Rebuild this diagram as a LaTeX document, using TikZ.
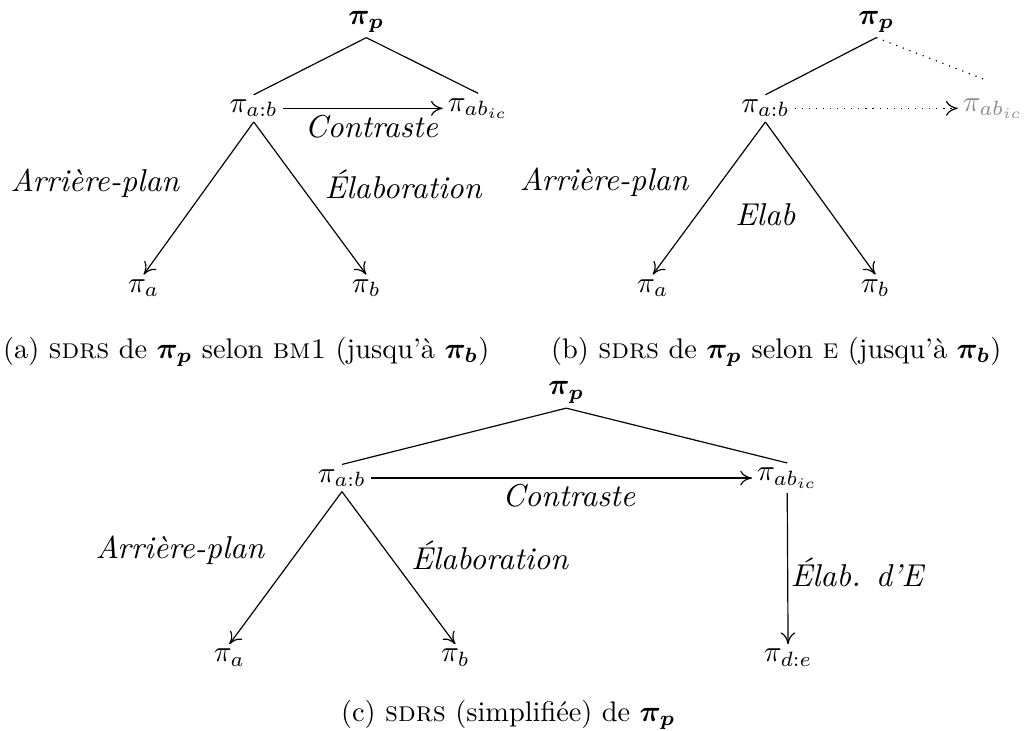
\documentclass[tikz,border=0pt]{standalone}
\usepackage{tikz}
\usetikzlibrary{positioning, arrows.meta, calc}
\usepackage{amsmath}

\begin{document}
\begin{tikzpicture}[seg/.style={inner sep=1.5pt}, rel/.style={font=\fontsize{10.7}{13}\selectfont\itshape}, lien/.style={-{To[length=4pt, width=5pt]}}, legende/.style={font=\fontsize{9.6}{12}\selectfont}]
\useasboundingbox (0, 0) rectangle (12.2, -8.7);

% (a) selon BM1
\node[seg] (a-p) at (4.36, -0.26) {$\boldsymbol{\pi_p}$};
\node[seg] (a-ab) at (3.02, -1.29) {$\pi_{a:b}$};
\node[seg] (a-abic) at (5.69, -1.29) {$\pi_{ab_{ic}}$};
\node[seg] (a-a) at (1.71, -3.43) {$\pi_a$};
\node[seg] (a-b) at (4.36, -3.43) {$\pi_b$};
\draw (a-p.south) -- (a-ab.north);
\draw (a-p.south) -- (a-abic.north);
\draw[lien] (a-ab) -- (a-abic);
\draw[lien] (a-ab.south) -- (a-a.north);
\draw[lien] (a-ab.south) -- (a-b.north);
\node[rel] (a-contr) at (4.42, -1.51) {Contraste};
\node[rel] (a-arr) at (1.13, -2.18) {Arrière-plan};
\node[rel] (a-elab) at (4.80, -2.19) {Élaboration};
\node[legende] (a-cap) at (2.93, -4.19) {(a) \textsc{sdrs} de $\boldsymbol{\pi_p}$ selon \textsc{bm1} (jusqu'à $\boldsymbol{\pi_b}$)};

% (b) selon E
\node[seg] (b-p) at (10.43, -0.26) {$\boldsymbol{\pi_p}$};
\node[seg] (b-ab) at (9.11, -1.29) {$\pi_{a:b}$};
\node[seg, text=black!45] (b-abic) at (11.82, -1.29) {$\pi_{ab_{ic}}$};
\node[seg] (b-a) at (7.77, -3.43) {$\pi_a$};
\node[seg] (b-b) at (10.42, -3.43) {$\pi_b$};
\coordinate (b-end) at (11.73, -0.95);
\draw (b-p.south) -- (b-ab.north);
\draw[dotted] (b-p.south) -- (b-end);
\draw[lien, dotted] (b-ab) -- (b-abic);
\draw[lien] (b-ab.south) -- (b-a.north);
\draw[lien] (b-ab.south) -- (b-b.north);
\node[rel] (b-arr) at (7.19, -2.17) {Arrière-plan};
\node[rel] (b-elab) at (9.11, -2.56) {Elab};
\node[legende] (b-cap) at (9.24, -4.19) {(b) \textsc{sdrs} de $\boldsymbol{\pi_p}$ selon \textsc{e} (jusqu'à $\boldsymbol{\pi_b}$)};

% (c) simplifiee
\node[seg] (c-p) at (6.74, -4.67) {$\boldsymbol{\pi_p}$};
\node[seg] (c-ab) at (4.07, -5.69) {$\pi_{a:b}$};
\node[seg] (c-abic) at (9.37, -5.69) {$\pi_{ab_{ic}}$};
\node[seg] (c-a) at (2.73, -7.83) {$\pi_a$};
\node[seg] (c-b) at (5.42, -7.83) {$\pi_b$};
\node[seg] (c-de) at (9.38, -7.83) {$\pi_{d:e}$};
\draw (c-p.south) -- (c-ab.north);
\draw (c-p.south) -- (c-abic.north);
\draw[lien] (c-ab) -- (c-abic);
\draw[lien] (c-ab.south) -- (c-a.north);
\draw[lien] (c-ab.south) -- (c-b.north);
\draw[lien] (c-abic.south) -- (c-de.north);
\node[rel] (c-contr) at (6.77, -5.90) {Contraste};
\node[rel] (c-arr) at (2.14, -6.55) {Arrière-plan};
\node[rel] (c-elab) at (5.83, -6.61) {Élaboration};
\node[rel] (c-elabe) at (10.20, -6.81) {Élab. d'E};
\node[legende] (c-cap) at (6.05, -8.51) {(c) \textsc{sdrs} (simplifiée) de $\boldsymbol{\pi_p}$};
\end{tikzpicture}
\end{document}
